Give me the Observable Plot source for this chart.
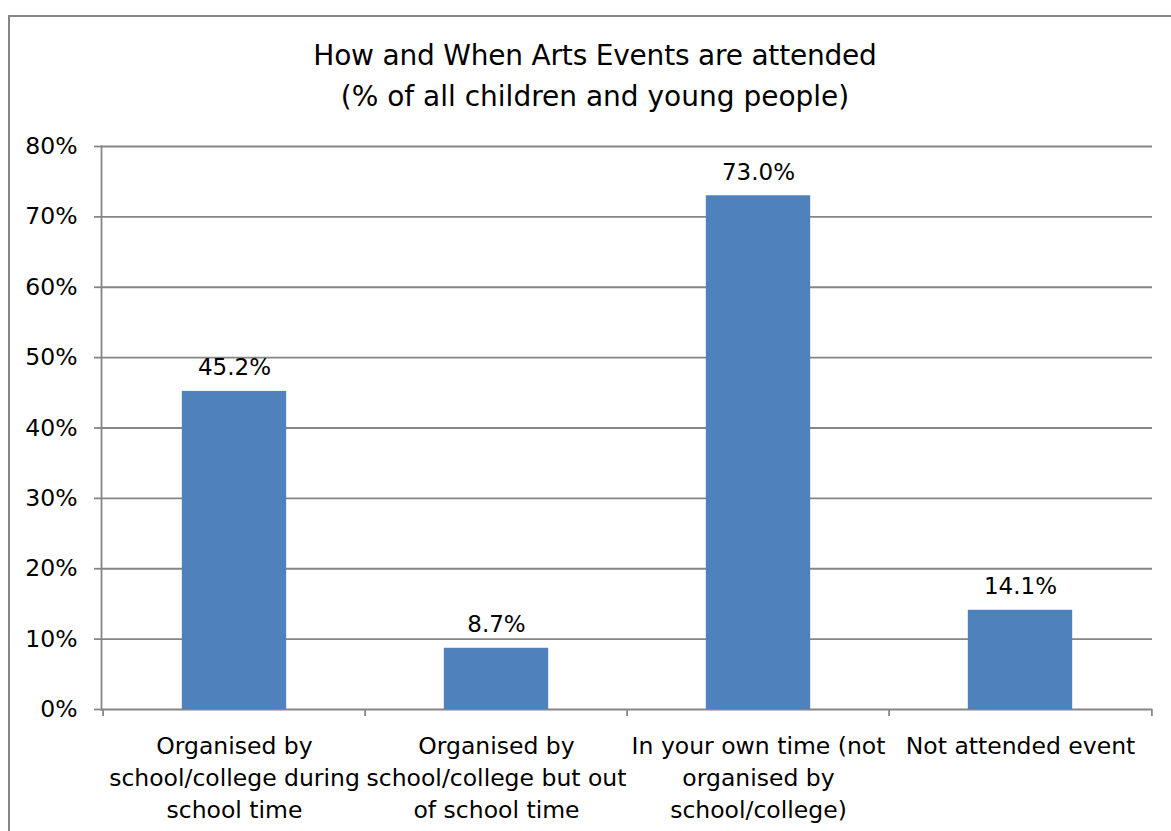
<!DOCTYPE html>
<html>
<head>
<meta charset="utf-8">
<script src="https://cdn.jsdelivr.net/npm/d3@7"></script>
<script src="https://cdn.jsdelivr.net/npm/@observablehq/plot@0.6"></script>
<style>
  html, body { margin: 0; padding: 0; background: #fff; overflow: hidden; }
  #wrap { position: relative; width: 1171px; height: 831px; font-family: "DejaVu Sans", Verdana, sans-serif; }
  #border { position: absolute; left: 8px; top: 15px; width: 1200px; height: 900px; border: 2px solid #868686; box-sizing: border-box; }
  #title { position: absolute; left: 0; width: 1190px; top: 36px; text-align: center; font-size: 28px; color: #000; line-height: 40px; letter-spacing: -0.2px; }
  #subtitle { position: absolute; left: 0; width: 1190px; top: 77px; text-align: center; font-size: 28px; color: #000; line-height: 40px; }
  #chart { position: absolute; left: 0; top: 120px; }
</style>
</head>
<body>
<div id="wrap">
  <div id="border"></div>
  <div id="title">How and When Arts Events are attended</div>
  <div id="subtitle">(% of all children and young people)</div>
  <div id="chart"></div>
</div>
<script>
const categories = [
  "Organised by\nschool/college during\nschool time",
  "Organised by\nschool/college but out\nof school time",
  "In your own time (not\norganised by\nschool/college)",
  "Not attended event"
];
const values = [45.2, 8.7, 73.0, 14.1];
const yTicks = [0, 10, 20, 30, 40, 50, 60, 70, 80];

const data = categories.map((c, i) => ({category: c, value: values[i]}));

const W = 1171, H = 711;
const mL = 101, mR = 19, mT = 26, mB = 122;
const bw = (W - mL - mR) / categories.length;
const gray = "#868686";

const plot = Plot.plot({
  width: W,
  height: H,
  marginLeft: mL,
  marginRight: mR,
  marginTop: mT,
  marginBottom: mB,
  style: {fontFamily: "'DejaVu Sans', Verdana, sans-serif", fontSize: "23px", color: "#000", background: "transparent"},
  x: {domain: categories, padding: 0, label: null},
  y: {domain: [0, 80], label: null},
  marks: [
    Plot.gridY(yTicks, {stroke: gray, strokeOpacity: 1, strokeWidth: 1.8}),
    Plot.barY(data, {x: "category", y: "value", fill: "#4F81BD", insetLeft: bw * 0.3, insetRight: bw * 0.3}),
    Plot.frame({anchor: "left", stroke: gray, strokeWidth: 1.8}),
    Plot.axisY(yTicks, {tickSize: 7, tickPadding: 17, stroke: gray, strokeWidth: 1.8, tickFormat: d => d + "%", fontSize: 23.5, fill: "#000", label: null}),
    Plot.axisX(categories, {tickSize: 7, dx: -bw / 2, stroke: gray, strokeWidth: 1.8, text: null, label: null}),
    Plot.axisX([categories[categories.length - 1]], {tickSize: 7, dx: bw / 2, stroke: gray, strokeWidth: 1.8, text: null, label: null}),
    Plot.axisX(categories, {tickSize: 0, tickPadding: 22, lineHeight: 1.36, lineAnchor: "top", fontSize: 23.5, fill: "#000", label: null}),
    Plot.text(data, {x: "category", y: "value", text: d => d.value.toFixed(1) + "%", lineAnchor: "bottom", dy: -16, fontSize: 23, fill: "#000"})
  ]
});
document.getElementById("chart").appendChild(plot);
</script>
</body>
</html>
